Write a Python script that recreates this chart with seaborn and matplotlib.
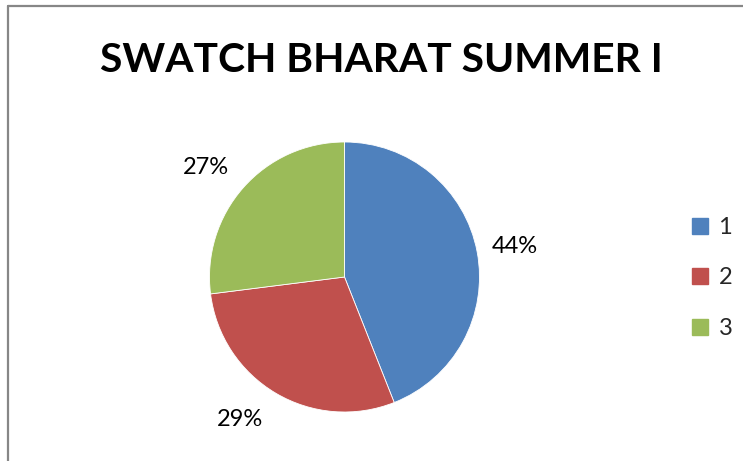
import matplotlib
matplotlib.use("Agg")
import numpy as np
import matplotlib.pyplot as plt
from matplotlib.lines import Line2D
import seaborn as sns

# Chart data
title = "SWATCH BHARAT SUMMER I"
categories = ["1", "2", "3"]
shares = [44, 29, 27]

sns.set_theme(style="white")
plt.rcParams["font.family"] = ["Lato", "DejaVu Sans"]
colors = sns.color_palette(["#4F81BD", "#C0504D", "#9BBB59"])

W, H, DPI = 743, 461, 100
fig = plt.figure(figsize=(W / DPI, H / DPI), dpi=DPI)
fig.patch.set_facecolor("white")

# Pie axes: centre and radius in pixels
cx, cy, r = 344.5, 277, 135
ax = fig.add_axes([(cx - r) / W, (H - cy - r) / H, 2 * r / W, 2 * r / H])
wedges, texts, autotexts = ax.pie(
    shares,
    colors=colors,
    startangle=90,
    counterclock=False,
    autopct="%1.0f%%",
    pctdistance=1.3,
    wedgeprops=dict(edgecolor="white", linewidth=0.6),
    textprops=dict(fontsize=17, color="black"),
)
# best-fit placement of the outside labels: radial distance and angular nudge
label_dist = [1.28, 1.31, 1.31]
label_nudge = [-0.5, -5.5, 3.0]
for w, t, d, n in zip(wedges, autotexts, label_dist, label_nudge):
    ang = np.deg2rad((w.theta1 + w.theta2) / 2 + n)
    t.set_position((d * np.cos(ang), d * np.sin(ang)))

ax.set_xlim(-1, 1)
ax.set_ylim(-1, 1)
ax.set_aspect("equal")
ax.axis("off")

# Title
fig.text(381 / W, 1 - 60 / H, title, ha="center", va="center",
         fontsize=29.3, fontweight="bold", color="black")

# Legend
handles = [Line2D([0], [0], marker="s", linestyle="none", markersize=11,
                  markerfacecolor=c, markeredgecolor=c) for c in colors]
leg = fig.legend(handles, categories, loc="center left",
                 bbox_to_anchor=(689 / W, 1 - 278 / H), frameon=False,
                 fontsize=17, labelspacing=1.25, handlelength=0.9,
                 handletextpad=0.35, borderpad=0, borderaxespad=0)

# Chart-area border (top and left edges)
border = "#878787"
fig.add_artist(Line2D([8 / W, 1], [1 - 6 / H, 1 - 6 / H], color=border,
                      linewidth=1.6, transform=fig.transFigure))
fig.add_artist(Line2D([8 / W, 8 / W], [0, 1 - 6 / H], color=border,
                      linewidth=1.6, transform=fig.transFigure))

fig.savefig("out.png", dpi=DPI, facecolor="white")
